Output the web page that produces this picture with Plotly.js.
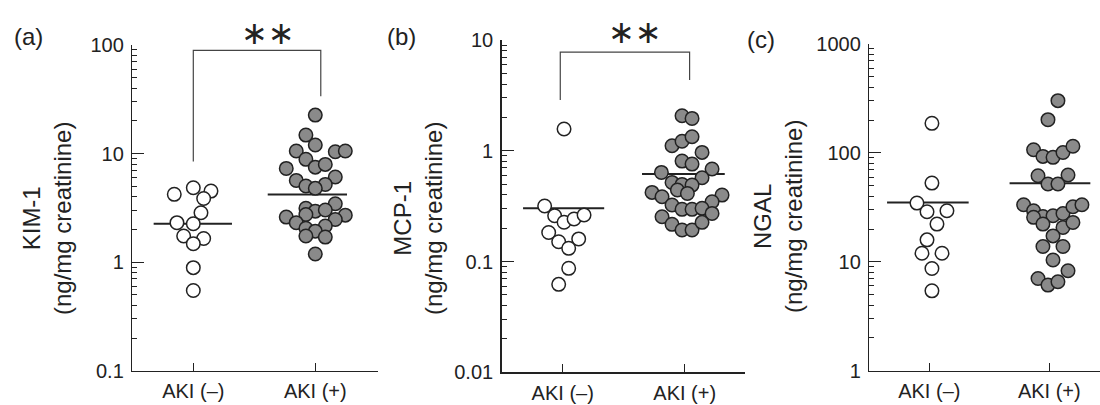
<!DOCTYPE html>
<html>
<head>
<meta charset="utf-8">
<script src="https://cdn.plot.ly/plotly-3.0.1.min.js"></script>
<style>
  html, body { margin: 0; padding: 0; background: #fff; }
  #chart { width: 1100px; height: 405px; }
</style>
</head>
<body>
<div id="chart"></div>
<script>
// Group labels on each x axis
const groups = ['AKI (–)', 'AKI (+)'];

// KIM-1 (ng/mg creatinine)
const kimNeg = [4.21, 4.85, 4.51, 3.86, 2.85, 2.31, 2.26, 1.74, 1.65, 1.48, 0.89, 0.548];
const kimNegSpread = [-0.156, 0, 0.145, 0.085, 0.063, -0.134, 0, -0.079, 0.085, 0, 0, 0];
const kimPos = [22.6, 14.8, 12.0, 10.55, 10.4, 10.55, 8.85, 7.5, 7.95, 7.3, 6.08, 5.66, 5.02, 5.2, 4.78,
                3.45, 3.13, 2.95, 3.02, 2.75, 2.60, 2.71, 2.47, 2.31, 2.15, 2.05, 1.93, 1.74, 1.70, 1.19];
const kimPosSpread = [0, -0.077, 0, -0.156, 0.164, 0.246, -0.077, 0, 0.082, -0.238, 0.164, -0.156, -0.077, 0.082, 0,
                      0.164, -0.077, 0, 0.082, -0.077, -0.238, 0.246, 0.164, -0.156, 0.082, -0.077, 0, -0.077, 0.082, 0];
const kimCenter = [2.26, 4.2];

// MCP-1 (ng/mg creatinine)
const mcpNeg = [1.57, 0.317, 0.259, 0.226, 0.242, 0.263, 0.183, 0.151, 0.160, 0.1315, 0.0868, 0.0622];
const mcpNegSpread = [0.011, -0.148, -0.066, 0.011, 0.093, 0.175, -0.115, -0.033, 0.131, 0.049, 0.049, -0.033];
const mcpPos = [2.07, 1.96, 1.11, 1.22, 1.34, 0.967, 0.807, 0.758, 0.638, 0.684, 0.571, 0.518, 0.497, 0.490, 0.442,
                0.412, 0.421, 0.385, 0.398, 0.347, 0.324, 0.296, 0.296, 0.302, 0.272, 0.254, 0.2166, 0.1924, 0.1924, 0.2257];
const mcpPosSpread = [-0.022, 0.060, -0.104, -0.022, 0.060, 0.142, -0.022, 0.060, -0.191, 0.224, 0.142, -0.104, -0.022, 0.060, -0.060,
                      0.022, -0.268, -0.186, 0.306, 0.224, -0.104, -0.022, 0.060, 0.142, 0.224, -0.186, -0.104, -0.022, 0.060, 0.142];
const mcpCenter = [0.302, 0.616];

// NGAL (ng/mg creatinine)
const ngalNeg = [186.8, 52.8, 34.6, 28.8, 29.4, 22.2, 15.9, 12.0, 12.0, 8.68, 5.41];
const ngalNegSpread = [0.022, 0.022, -0.103, -0.019, 0.147, 0.064, -0.019, -0.061, 0.106, 0.022, 0.022];
const ngalPos = [302, 202, 107, 92.9, 91.0, 101, 115, 61.7, 51.8, 51.8, 62.6, 33.4, 29.4, 26.1, 26.5,
                 27.8, 32.0, 33.4, 25.6, 22.2, 20.7, 23.0, 17.3, 13.8, 13.8, 10.4, 7.03, 6.11, 6.55, 8.27];
const ngalPosSpread = [0.072, -0.011, -0.131, -0.053, 0.031, 0.114, 0.197, -0.094, -0.011, 0.072, 0.156, -0.214, -0.131, -0.053, 0.031,
                       0.114, 0.197, 0.272, -0.131, -0.053, 0.114, 0.197, 0.031, -0.053, 0.114, 0.031, -0.094, -0.011, 0.072, 0.156];
const ngalCenter = [35.1, 52.5];

// Y tick labels per panel
const kimTicks = [0.1, 1, 10, 100];
const kimTickText = ['0.1', '1', '10', '100'];
const mcpTicks = [0.01, 0.1, 1, 10];
const mcpTickText = ['0.01', '0.1', '1', '10'];
const ngalTicks = [1, 10, 100, 1000];
const ngalTickText = ['1', '10', '100', '1000'];

const W = 1100, H = 405;
const ink = '#222';
const FONT = 'Liberation Sans, Arial, Helvetica, sans-serif';

const panels = [
  {
    key: '', neg: kimNeg, negX: kimNegSpread, pos: kimPos, posX: kimPosSpread, center: kimCenter,
    ticks: kimTicks, tickText: kimTickText, yrange: [-1, 2],
    xpx: [132.3, 378], xrange: [-0.5, 1.514], ypx: [45, 370.7],
    lineSpan: [[-0.325, 0.317], [-0.39, 0.26]],
    name: 'KIM-1', label: '(a)', labelPx: [28, 36], titlePx: [47, 219],
    bracket: { x: [0, 0, 1.045, 1.045], y: [8.47, 89.4, 89.4, 33.7] }, starPx: [268, 33]
  },
  {
    key: '2', neg: mcpNeg, negX: mcpNegSpread, pos: mcpPos, posX: mcpPosSpread, center: mcpCenter,
    ticks: mcpTicks, tickText: mcpTickText, yrange: [-2, 1],
    xpx: [501.7, 745], xrange: [-0.5, 1.494], ypx: [40, 372.3],
    lineSpan: [[-0.325, 0.34], [-0.35, 0.328]],
    name: 'MCP-1', label: '(b)', labelPx: [401, 37], titlePx: [418, 219],
    bracket: { x: [-0.02, -0.02, 1.04, 1.04], y: [2.87, 7.78, 7.78, 4.35] }, starPx: [635, 32]
  },
  {
    key: '3', neg: ngalNeg, negX: ngalNegSpread, pos: ngalPos, posX: ngalPosSpread, center: ngalCenter,
    ticks: ngalTicks, tickText: ngalTickText, yrange: [0, 3],
    xpx: [869.3, 1100], xrange: [-0.5, 1.4225], ypx: [44, 370.7],
    lineSpan: [[-0.352, 0.328], [-0.331, 0.342]],
    name: 'NGAL', label: '(c)', labelPx: [761, 39], titlePx: [778, 217],
    bracket: null, starPx: null
  }
];

const traces = [];
const layout = {
  width: W, height: H,
  margin: { l: 0, r: 0, t: 0, b: 0 },
  paper_bgcolor: '#fff', plot_bgcolor: '#fff',
  showlegend: false,
  font: { family: FONT, color: ink },
  annotations: []
};

panels.forEach(p => {
  const xa = 'x' + p.key, ya = 'y' + p.key;

  // group centre lines
  p.center.forEach((v, g) => {
    traces.push({
      type: 'scatter', mode: 'lines', xaxis: xa, yaxis: ya, hoverinfo: 'skip',
      x: [g + p.lineSpan[g][0], g + p.lineSpan[g][1]], y: [v, v],
      line: { color: ink, width: 2 }
    });
  });

  // significance bracket
  if (p.bracket) {
    traces.push({
      type: 'scatter', mode: 'lines', xaxis: xa, yaxis: ya, hoverinfo: 'skip', cliponaxis: false,
      x: p.bracket.x, y: p.bracket.y, line: { color: '#444', width: 1.2 }
    });
    layout.annotations.push({
      xref: 'paper', yref: 'paper', x: p.starPx[0] / W, y: 1 - p.starPx[1] / H,
      xanchor: 'center', yanchor: 'middle', showarrow: false,
      text: '∗∗', font: { family: 'DejaVu Sans', size: 32, color: ink }
    });
  }

  // individual points
  traces.push({
    type: 'scatter', mode: 'markers', xaxis: xa, yaxis: ya, cliponaxis: false,
    x: p.neg.map((v, i) => 0 + p.negX[i]), y: p.neg,
    marker: { size: 13.5, color: '#fff', line: { color: ink, width: 1.5 } }
  });
  traces.push({
    type: 'scatter', mode: 'markers', xaxis: xa, yaxis: ya, cliponaxis: false,
    x: p.pos.map((v, i) => 1 + p.posX[i]), y: p.pos,
    marker: { size: 13.5, color: '#8a8a8a', line: { color: ink, width: 1.5 } }
  });

  layout['xaxis' + p.key] = {
    domain: [p.xpx[0] / W, p.xpx[1] / W], range: p.xrange, anchor: ya,
    showline: true, linecolor: ink, linewidth: 1.5, mirror: false,
    showgrid: false, zeroline: false,
    ticks: 'inside', ticklen: 8, tickwidth: 1.2, tickcolor: ink,
    tickvals: [0, 1], ticktext: groups, ticklabelstandoff: 2,
    tickfont: { family: FONT, size: 20, color: ink }
  };
  layout['yaxis' + p.key] = {
    type: 'log', domain: [1 - p.ypx[1] / H, 1 - p.ypx[0] / H], range: p.yrange, anchor: xa,
    showline: true, linecolor: ink, linewidth: 1.5,
    showgrid: false, zeroline: false,
    ticks: 'inside', ticklen: 12, tickwidth: 1, tickcolor: ink,
    tickvals: p.ticks, ticktext: p.tickText, ticklabelstandoff: 3,
    tickfont: { family: FONT, size: 20, color: ink },
    minor: { ticks: 'inside', ticklen: 5, tickwidth: 1, tickcolor: ink, dtick: 'D1', showgrid: false }
  };

  // y title (two lines, rotated)
  layout.annotations.push({
    xref: 'paper', yref: 'paper', x: p.titlePx[0] / W, y: 1 - p.titlePx[1] / H,
    xanchor: 'center', yanchor: 'middle', showarrow: false, textangle: -90,
    text: p.name + '<br>(ng/mg creatinine)',
    font: { family: FONT, size: 24, color: ink }
  });
  // panel letter
  layout.annotations.push({
    xref: 'paper', yref: 'paper', x: p.labelPx[0] / W, y: 1 - p.labelPx[1] / H,
    xanchor: 'center', yanchor: 'middle', showarrow: false,
    text: p.label, font: { family: FONT, size: 24, color: ink }
  });
});

Plotly.newPlot('chart', traces, layout, { staticPlot: true, displayModeBar: false });
</script>
</body>
</html>
